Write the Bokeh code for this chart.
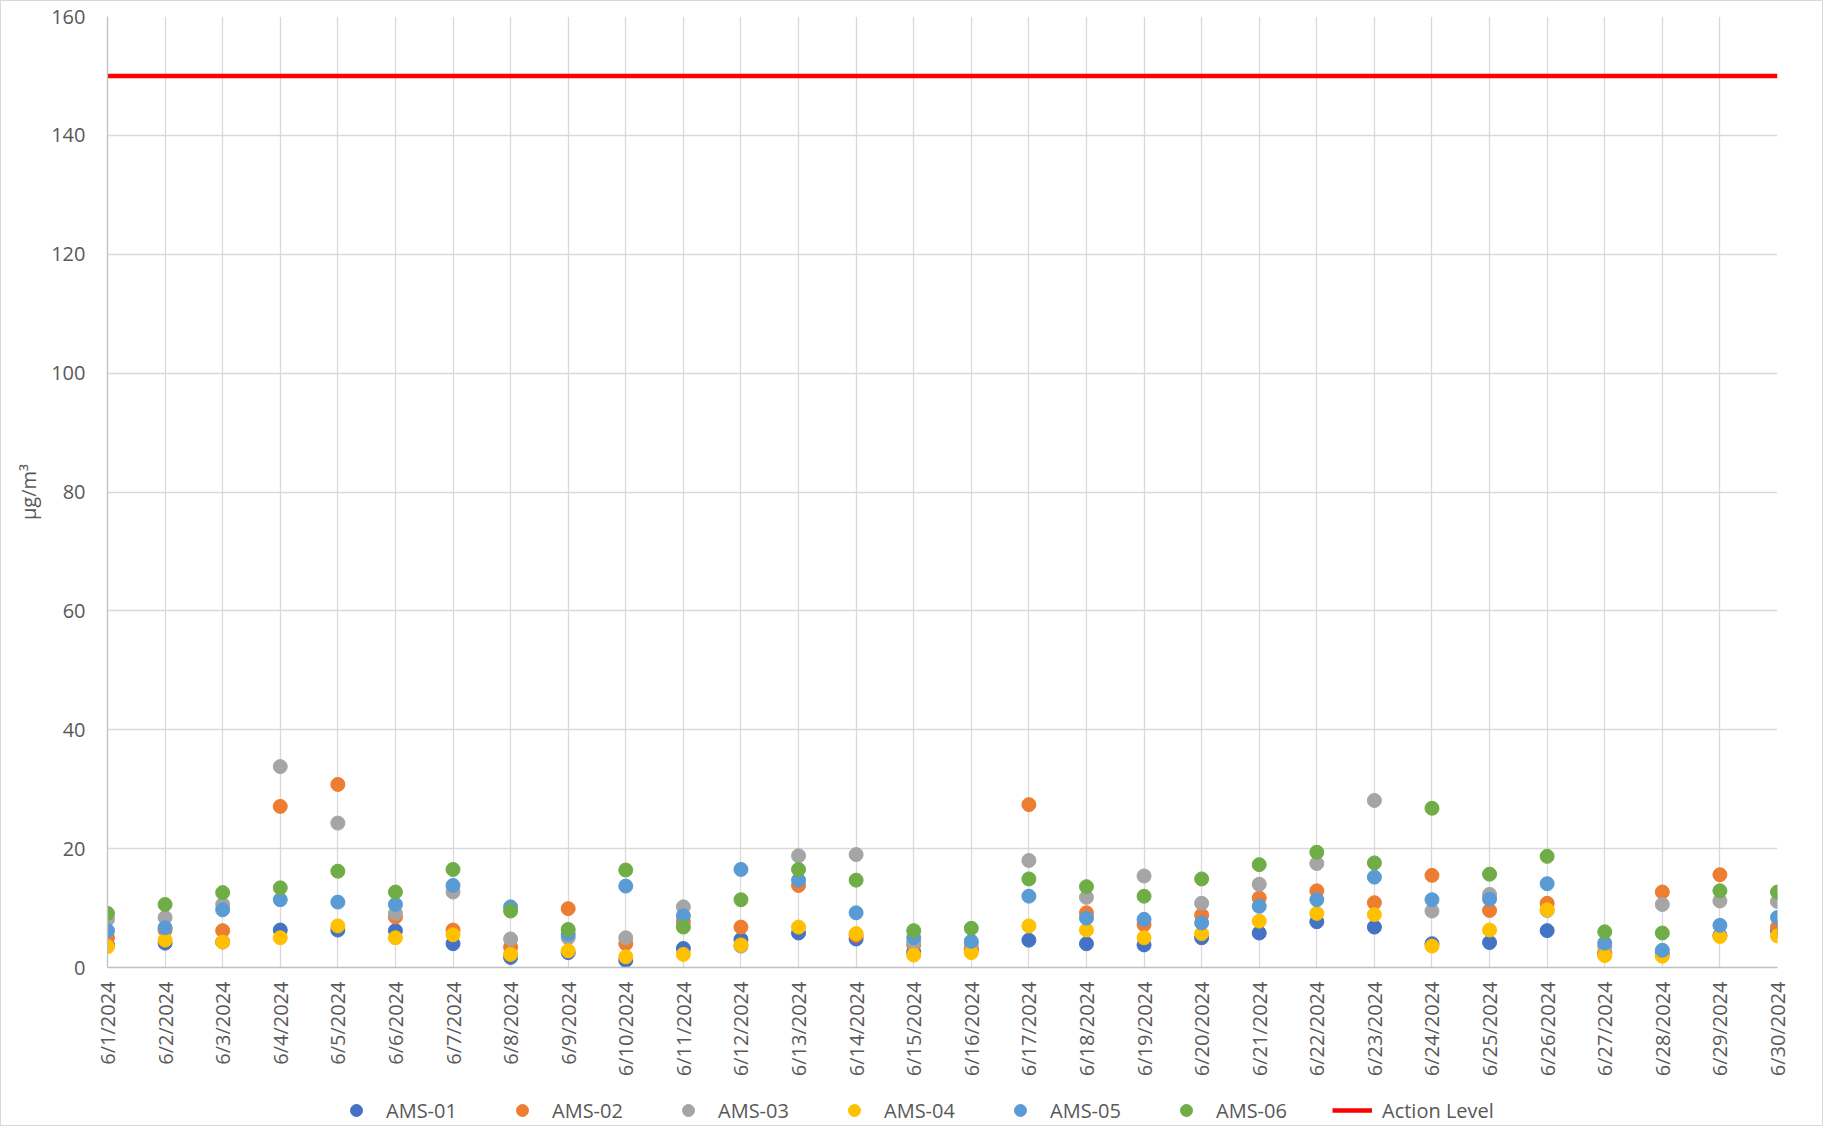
import math
from bokeh.plotting import figure
from bokeh.layouts import column
from bokeh.models import (ColumnDataSource, Range1d, FixedTicker, Legend, LegendItem)
from bokeh.embed import file_html
from bokeh.resources import INLINE

dates = ["6/1/2024", "6/2/2024", "6/3/2024", "6/4/2024", "6/5/2024", "6/6/2024",
         "6/7/2024", "6/8/2024", "6/9/2024", "6/10/2024", "6/11/2024", "6/12/2024",
         "6/13/2024", "6/14/2024", "6/15/2024", "6/16/2024", "6/17/2024", "6/18/2024",
         "6/19/2024", "6/20/2024", "6/21/2024", "6/22/2024", "6/23/2024", "6/24/2024",
         "6/25/2024", "6/26/2024", "6/27/2024", "6/28/2024", "6/29/2024", "6/30/2024"]

ams01 = [3.8, 4.1, 4.3, 6.3, 6.3, 6.2, 4.0, 1.7, 2.5, 1.2,
         3.2, 4.7, 5.8, 4.8, 2.6, 3.0, 4.6, 4.0, 3.8, 5.0,
         5.8, 7.7, 6.8, 4.0, 4.2, 6.2, 2.2, 2.2, 5.4, 6.2]
ams02 = [5.0, 6.3, 6.2, 27.1, 30.8, 8.5, 6.3, 3.4, 9.9, 4.0,
         7.7, 6.8, 13.8, 5.4, 3.8, 3.2, 27.4, 9.2, 7.2, 8.8,
         11.7, 12.9, 10.9, 15.5, 9.6, 10.8, 2.5, 12.7, 15.6, 6.8]
ams03 = [8.1, 8.4, 10.6, 33.8, 24.3, 9.1, 12.7, 4.8, 5.0, 5.0,
         10.2, 3.6, 18.8, 19.0, 4.2, 4.0, 18.0, 11.8, 15.4, 10.8,
         14.0, 17.5, 28.1, 9.5, 12.3, 9.6, 3.5, 10.6, 11.2, 11.1]
ams04 = [3.5, 4.6, 4.3, 5.0, 7.0, 5.0, 5.5, 2.2, 2.8, 1.8,
         2.2, 3.8, 6.8, 5.7, 2.1, 2.5, 7.0, 6.3, 5.0, 5.7,
         7.8, 9.1, 8.9, 3.6, 6.3, 9.7, 2.0, 1.9, 5.2, 5.3]
ams05 = [6.2, 6.7, 9.7, 11.4, 11.0, 10.6, 13.8, 10.2, 5.6, 13.7,
         8.7, 16.5, 14.7, 9.2, 5.0, 4.4, 12.0, 8.3, 8.1, 7.5,
         10.3, 11.4, 15.2, 11.4, 11.5, 14.1, 4.1, 2.9, 7.1, 8.4]
ams06 = [9.1, 10.6, 12.6, 13.4, 16.2, 12.7, 16.5, 9.5, 6.4, 16.4,
         6.8, 11.4, 16.5, 14.7, 6.2, 6.6, 14.9, 13.6, 12.0, 14.9,
         17.3, 19.4, 17.6, 26.8, 15.7, 18.7, 6.0, 5.8, 12.9, 12.7]
action_level = 150

series_names = ["AMS-01", "AMS-02", "AMS-03", "AMS-04", "AMS-05", "AMS-06"]
series_values = [ams01, ams02, ams03, ams04, ams05, ams06]
series_colors = ["#4472C4", "#ED7D31", "#A5A5A5", "#FFC000", "#5B9BD5", "#70AD47"]
y_ticks = [0, 20, 40, 60, 80, 100, 120, 140, 160]

FONT = "Open Sans"
TXT = "#595959"
W = 1821

xpos = list(range(len(dates)))

# ---- main chart ----
p = figure(width=W, height=1090, output_backend="svg", toolbar_location=None,
           x_range=Range1d(0, len(dates) - 1), y_range=Range1d(0, 160),
           min_border_left=106, min_border_right=45, min_border_top=15, min_border_bottom=124)
p.outline_line_color = None
p.background_fill_color = "white"

p.xaxis.ticker = FixedTicker(ticks=xpos)
p.xaxis.major_label_overrides = {i: d for i, d in enumerate(dates)}
p.xaxis.major_label_orientation = math.pi / 2
p.yaxis.ticker = FixedTicker(ticks=y_ticks)

for ax in (p.xaxis, p.yaxis):
    ax.major_tick_line_color = None
    ax.minor_tick_line_color = None
    ax.major_tick_in = 0
    ax.major_tick_out = 0
    ax.axis_line_color = "#BFBFBF"
    ax.axis_line_width = 1.3
    ax.major_label_text_font = FONT
    ax.major_label_text_font_size = "20px"
    ax.major_label_text_color = TXT
p.xaxis.major_label_standoff = 14
p.yaxis.major_label_standoff = 22

p.yaxis.axis_label = "µg/m³"
p.yaxis.axis_label_text_font = FONT
p.yaxis.axis_label_text_font_size = "20px"
p.yaxis.axis_label_text_font_style = "normal"
p.yaxis.axis_label_text_color = TXT
p.yaxis.axis_label_standoff = 6

p.xgrid.grid_line_color = "#D9D9D9"
p.xgrid.grid_line_width = 1.3
p.ygrid.grid_line_color = "#D9D9D9"
p.ygrid.grid_line_width = 1.3

# ---- legend strip (its renderers share the data but lie outside its view) ----
lf = figure(width=W, height=34, output_backend="svg", toolbar_location=None,
            x_axis_type=None, y_axis_type=None,
            x_range=Range1d(0, 1), y_range=Range1d(-1000, -999), min_border=0)
lf.outline_line_color = None
lf.xgrid.visible = False
lf.ygrid.visible = False

items = []
for name, vals, col in zip(series_names, series_values, series_colors):
    src = ColumnDataSource(dict(x=xpos, y=vals))
    p.scatter("x", "y", source=src, size=14, fill_color=col, line_color=col)
    r = lf.scatter("x", "y", source=src, size=14, fill_color=col, line_color=col)
    items.append(LegendItem(label=name, renderers=[r]))

al_src = ColumnDataSource(dict(x=xpos, y=[action_level] * len(xpos)))
p.line("x", "y", source=al_src, line_color="#FF0000", line_width=4.5)
rl = lf.line("x", "y", source=al_src, line_color="#FF0000", line_width=4.5)
items.append(LegendItem(label="Action Level", renderers=[rl]))

legend = Legend(items=items, orientation="horizontal", location=(229, 0),
                label_text_font=FONT, label_text_font_size="20px", label_text_color=TXT,
                glyph_width=40, glyph_height=30, label_standoff=10, spacing=10,
                label_width=106,
                border_line_color=None, background_fill_alpha=0, padding=0, margin=0)
lf.add_layout(legend)

layout = column(p, lf, spacing=0, styles={"border": "1px solid #D9D9D9"})

open("out.html", "w").write(file_html(layout, INLINE))
